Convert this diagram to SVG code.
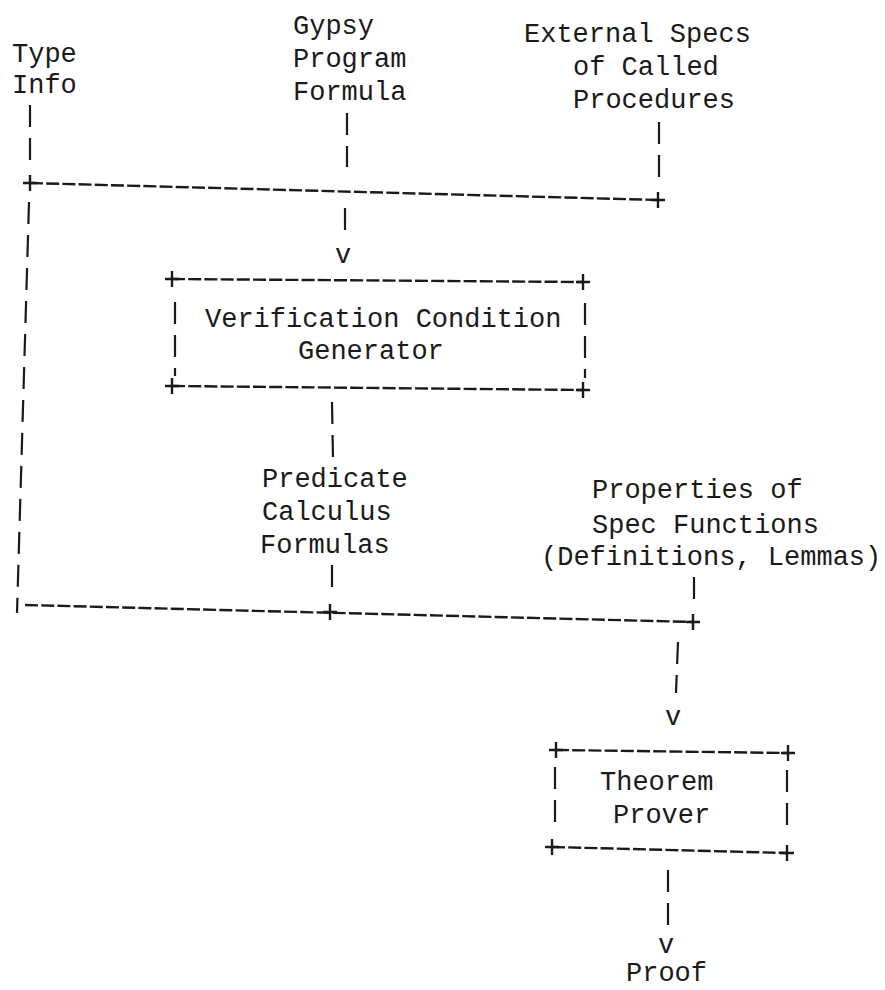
<svg xmlns="http://www.w3.org/2000/svg" xmlns:xlink="http://www.w3.org/1999/xlink" width="885" height="990" viewBox="0 0 885 990">
<style>
  text { font-family: "Liberation Mono", "Courier New", monospace; font-size: 27px; fill: #1a1a1a; }
  .mid { text-anchor: middle; }
  .h { stroke: #1a1a1a; stroke-width: 2.4; fill: none; stroke-dasharray: 13 3.2; }
  .v { stroke: #1a1a1a; stroke-width: 2.2; fill: none; stroke-dasharray: 22 11; }
  .p { stroke: #1a1a1a; stroke-width: 2.4; fill: none; }
</style>
<defs>
  <g id="plus"><path class="p" d="M-7 0H7M0 -8V8"/></g>
</defs>
<rect width="885" height="990" fill="#ffffff"/>

<g id="type-info">
  <text x="12" y="62">Type</text>
  <text x="12" y="93">Info</text>
</g>
<g id="gypsy-program-formula">
  <text x="293" y="34">Gypsy</text>
  <text x="293" y="67">Program</text>
  <text x="293" y="100">Formula</text>
</g>
<g id="external-specs">
  <text x="524" y="42">External Specs</text>
  <text x="573" y="75">of Called</text>
  <text x="573" y="108">Procedures</text>
</g>
<g id="vcg">
  <path class="h" d="M172 279L583 282"/>
  <path class="h" d="M172 386L583 390"/>
  <path class="v" d="M175 302L175 376"/>
  <path class="v" d="M585 303L585 378"/>
  <use xlink:href="#plus" x="172" y="279"/>
  <use xlink:href="#plus" x="583" y="282"/>
  <use xlink:href="#plus" x="172" y="386"/>
  <use xlink:href="#plus" x="583" y="390"/>
  <text x="205" y="327">Verification Condition</text>
  <text x="298" y="359">Generator</text>
</g>
<g id="predicate-calculus">
  <text x="262" y="487">Predicate</text>
  <text x="262" y="520">Calculus</text>
  <text x="260" y="553">Formulas</text>
</g>
<g id="properties">
  <text x="592" y="498">Properties of</text>
  <text x="592" y="533">Spec Functions</text>
  <text x="541" y="565">(Definitions, Lemmas)</text>
</g>
<g id="theorem-prover">
  <path class="h" d="M556 750L788 753"/>
  <path class="h" d="M552 847L787 853"/>
  <path class="v" d="M555 767L555 822"/>
  <path class="v" d="M787 770L787 830"/>
  <use xlink:href="#plus" x="556" y="750"/>
  <use xlink:href="#plus" x="788" y="753"/>
  <use xlink:href="#plus" x="552" y="847"/>
  <use xlink:href="#plus" x="787" y="853"/>
  <text x="600" y="790">Theorem</text>
  <text x="613" y="823">Prover</text>
</g>
<g id="proof">
  <text x="626" y="981">Proof</text>
</g>

<g id="connectors">
  <!-- top collector -->
  <path class="v" d="M30 105L30 162"/>
  <path class="v" d="M347 113L347 167"/>
  <path class="v" d="M659 122L659 177"/>
  <path class="h" d="M30 183L658 200"/>
  <use xlink:href="#plus" x="30" y="183"/>
  <use xlink:href="#plus" x="658" y="200"/>
  <path class="v" d="M345 208L345 232"/>
  <text class="mid" x="343" y="263">v</text>
  <!-- type info down the left side -->
  <path class="v" d="M29 202L17 613"/>
  <!-- VCG output -->
  <path class="v" d="M332 402L333 460"/>
  <path class="v" d="M332 565L332 590"/>
  <!-- bottom collector -->
  <path class="v" d="M694 577L694 600"/>
  <path class="h" d="M25 605L693 622"/>
  <use xlink:href="#plus" x="330" y="612"/>
  <use xlink:href="#plus" x="693" y="622"/>
  <path class="v" d="M678 642L676 693"/>
  <text class="mid" x="673" y="725">v</text>
  <!-- prover output -->
  <path class="v" d="M668 870L668 925"/>
  <text class="mid" x="666" y="953">v</text>
</g>
</svg>
